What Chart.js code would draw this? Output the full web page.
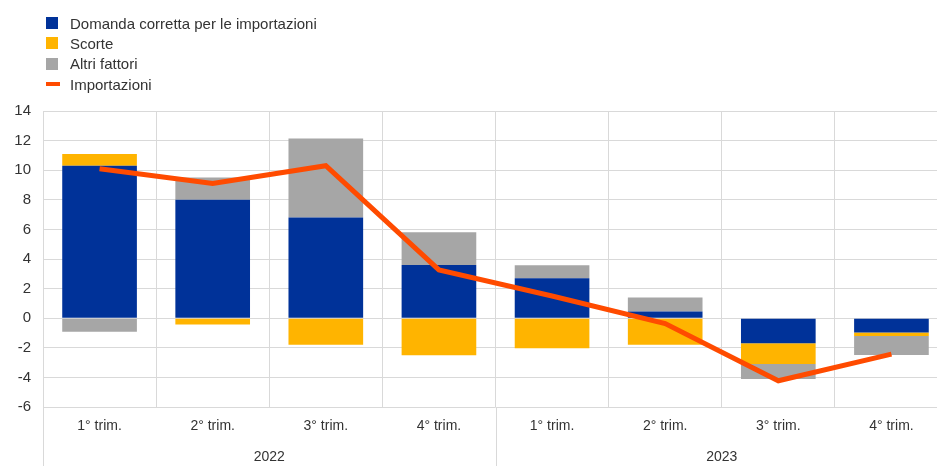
<!DOCTYPE html>
<html>
<head>
<meta charset="utf-8">
<script src="https://cdn.jsdelivr.net/npm/chart.js@4"></script>
<style>
  html, body { margin: 0; padding: 0; background: #fff; overflow: hidden; }
  #wrap { position: relative; width: 950px; height: 466px; }
  #legend { position: absolute; left: 46px; top: 13px; font: 15px "Liberation Sans", Arial, sans-serif; color: #333; }
  .item { height: 20.3px; display: flex; align-items: center; }
  .box { width: 12px; height: 12px; margin-right: 12px; }
  .ln { width: 14px; height: 4px; margin-right: 10px; }
</style>
</head>
<body>
<div id="wrap">
  <canvas id="chart" width="950" height="466"></canvas>
  <div id="legend"></div>
</div>
<script>
const quarters = ['1° trim.', '2° trim.', '3° trim.', '4° trim.', '1° trim.', '2° trim.', '3° trim.', '4° trim.'];
const years = ['2022', '2023'];

// contributions (percentage points)
const domanda = [10.3, 8.0, 6.8, 3.6, 2.7, 0.45, -1.7, -0.97];
const scorte = [0.8, -0.43, -1.8, -2.5, -2.03, -1.8, -1.4, -0.23];
const altri = [-0.92, 1.5, 5.35, 2.2, 0.88, 0.95, -1.0, -1.28];
const importazioni = [10.1, 9.1, 10.3, 3.26, 1.5, -0.36, -4.23, -2.43];

const colors = { blue: '#003299', yellow: '#FFB400', grey: '#A6A6A6', orange: '#FF4B00' };
const gridColor = '#d9d9d9';
const font = { family: '"Liberation Sans", Arial, sans-serif', size: 14 };

// left axis line and the year separator, down through the label rows
const yearLines = {
  id: 'yearLines',
  afterDraw(chart) {
    const x = chart.scales.x;
    const ctx = chart.ctx;
    const area = chart.chartArea;
    const seps = [[x.left, area.top], [(x.getPixelForValue(3) + x.getPixelForValue(4)) / 2, area.bottom]];
    ctx.save();
    ctx.strokeStyle = gridColor;
    ctx.lineWidth = 1;
    seps.forEach(([px, top]) => {
      ctx.beginPath();
      ctx.moveTo(Math.round(px) + 0.5, top);
      ctx.lineTo(Math.round(px) + 0.5, chart.height);
      ctx.stroke();
    });
    ctx.restore();
  }
};

const chart = new Chart(document.getElementById('chart'), {
  type: 'bar',
  data: {
    labels: quarters,
    datasets: [
      { type: 'line', label: 'Importazioni', data: importazioni, borderColor: colors.orange, backgroundColor: colors.orange,
        borderWidth: 5, pointRadius: 0, tension: 0, stack: 'imp', order: 0 },
      { label: 'Domanda corretta per le importazioni', data: domanda, backgroundColor: colors.blue, stack: 'c', order: 1 },
      { label: 'Scorte', data: scorte, backgroundColor: colors.yellow, stack: 'c', order: 1 },
      { label: 'Altri fattori', data: altri, backgroundColor: colors.grey, stack: 'c', order: 1 }
    ]
  },
  options: {
    responsive: false,
    animation: false,
    layout: { padding: { top: 111, right: 2, left: 0, bottom: 0 } },
    datasets: { bar: { barPercentage: 0.66, categoryPercentage: 1 } },
    plugins: { legend: { display: false }, tooltip: { enabled: false } },
    scales: {
      y: {
        stacked: true,
        min: -6, max: 14,
        ticks: { stepSize: 2, font: { ...font, size: 15 }, color: '#333', padding: 12 },
        grid: { color: gridColor, drawTicks: false },
        border: { display: false },
        afterFit: s => { s.width = 43; }
      },
      x: {
        stacked: true,
        ticks: { font: font, color: '#333', padding: 11 },
        grid: { color: gridColor, offset: true, drawTicks: false },
        border: { display: false },
        afterFit: s => { s.height = 32; }
      },
      x2: {
        type: 'category',
        labels: years,
        position: 'bottom',
        ticks: { font: font, color: '#333', padding: 2 },
        grid: { display: false },
        border: { display: false },
        afterFit: s => { s.height = 27; }
      }
    }
  },
  plugins: [yearLines]
});

// legend built from the datasets
const legendItems = [1, 2, 3, 0];
const legend = document.getElementById('legend');
legendItems.forEach(i => {
  const ds = chart.data.datasets[i];
  const row = document.createElement('div');
  row.className = 'item';
  const sw = document.createElement('span');
  sw.className = ds.type === 'line' ? 'ln' : 'box';
  sw.style.background = ds.type === 'line' ? ds.borderColor : ds.backgroundColor;
  const txt = document.createElement('span');
  txt.textContent = ds.label;
  row.appendChild(sw);
  row.appendChild(txt);
  legend.appendChild(row);
});
</script>
</body>
</html>
